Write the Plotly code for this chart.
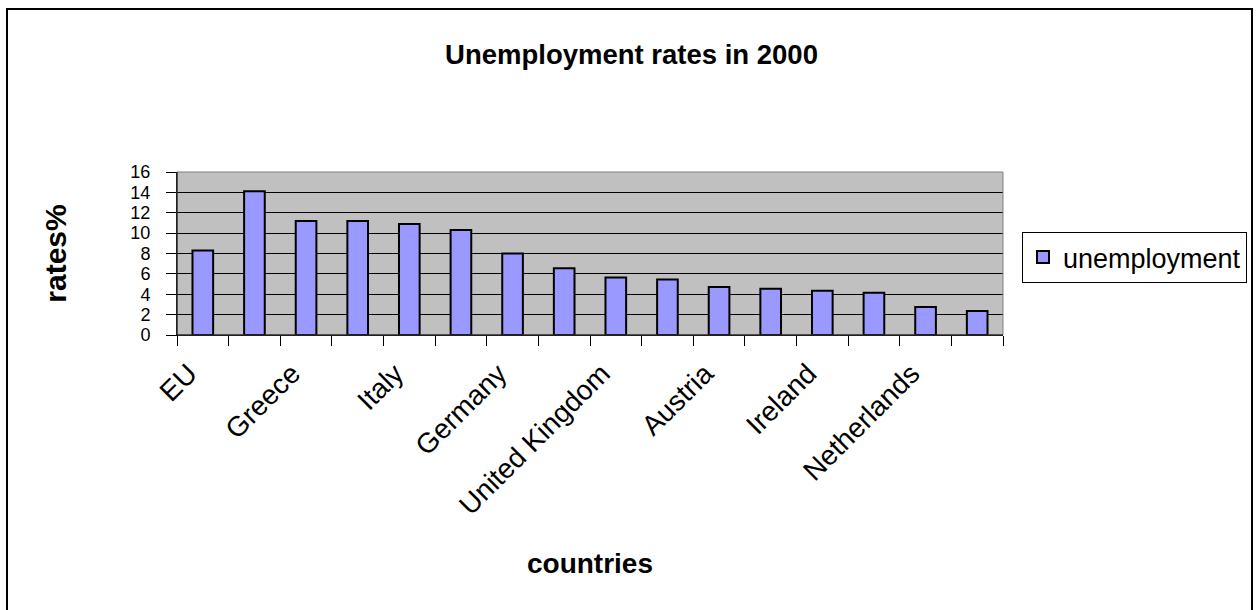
import plotly.graph_objects as go

countries = ["EU", "Spain", "Greece", "France", "Italy", "Finland", "Germany", "Belgium",
             "United Kingdom", "Sweden", "Austria", "Denmark", "Ireland", "Portugal",
             "Netherlands", "Luxembourg"]
unemployment = [8.3, 14.1, 11.2, 11.2, 10.9, 10.3, 8.0, 6.55,
                5.65, 5.45, 4.7, 4.55, 4.35, 4.15, 2.75, 2.35]
y_ticks = [0, 2, 4, 6, 8, 10, 12, 14, 16]

W, H = 1258, 610
L, R, T, B = 177, 255, 172, 275
pw, ph = W - L - R, H - T - B

def px_x(p):
    return (p - L) / pw

def px_y(p):
    return (H - B - p) / ph

positions = list(range(1, len(countries) + 1))
shown_pos = positions[::2]
shown_txt = countries[::2]

FONT = "Liberation Sans, Arial, sans-serif"

fig = go.Figure()
fig.add_trace(go.Bar(
    x=positions, y=unemployment, name="unemployment",
    width=0.4,
    marker=dict(color="#9999FF", line=dict(color="black", width=2)),
    showlegend=True,
))

fig.update_layout(
    width=W, height=H,
    margin=dict(l=L, r=R, t=T, b=B, autoexpand=False),
    paper_bgcolor="white", plot_bgcolor="#C0C0C0",
    font=dict(family=FONT, color="black"),
    title=dict(text="<b>Unemployment rates in 2000</b>", font=dict(size=27.5, family=FONT),
               x=0.502, xref="container", xanchor="center",
               y=1 - 54 / H, yref="container", yanchor="middle"),
    showlegend=True,
    legend=dict(x=px_x(1022), y=px_y(232), xanchor="left", yanchor="top",
                bordercolor="black", borderwidth=1, bgcolor="white",
                font=dict(size=27, family=FONT), itemsizing="constant",
                tracegroupgap=0),
    xaxis=dict(range=[0.5, len(countries) + 0.5], tickmode="array",
               tickvals=shown_pos, ticktext=shown_txt, tickangle=-45,
               ticks="", showgrid=False, zeroline=False,
               showline=True, linecolor="black", linewidth=1,
               tickfont=dict(size=28, family=FONT),
               ticklabelstandoff=10, ticklabelshift=-14,
               minor=dict(tickmode="linear", tick0=0.5, dtick=1, ticks="outside",
                          ticklen=10, tickcolor="black", tickwidth=1, showgrid=False),
               title=dict(text="<b>countries</b>", font=dict(size=28, family=FONT), standoff=33)),
    yaxis=dict(range=[0, 16], tickmode="array", tickvals=y_ticks,
               ticks="outside", ticklen=10, tickcolor="black", tickwidth=1,
               showgrid=True, gridcolor="black", gridwidth=1, zeroline=False,
               showline=True, linecolor="black", linewidth=1,
               tickfont=dict(size=18, family=FONT), ticklabelstandoff=12,
               title=dict(text="<b>rates%</b>", font=dict(size=30, family=FONT), standoff=54)),
    shapes=[
        dict(type="rect", xref="paper", yref="paper", x0=0, x1=1, y0=0, y1=1,
             line=dict(color="#808080", width=1), layer="above"),
        dict(type="line", xref="paper", yref="paper", x0=0, x1=0, y0=0, y1=1,
             line=dict(color="black", width=1), layer="above"),
        dict(type="line", xref="paper", yref="paper", x0=0, x1=1, y0=0, y1=0,
             line=dict(color="black", width=1), layer="above"),
        dict(type="rect", xref="paper", yref="paper",
             x0=px_x(7), x1=px_x(1252), y0=px_y(640), y1=px_y(9),
             line=dict(color="black", width=2), layer="above"),
    ],
)

fig.write_html("out.html")
